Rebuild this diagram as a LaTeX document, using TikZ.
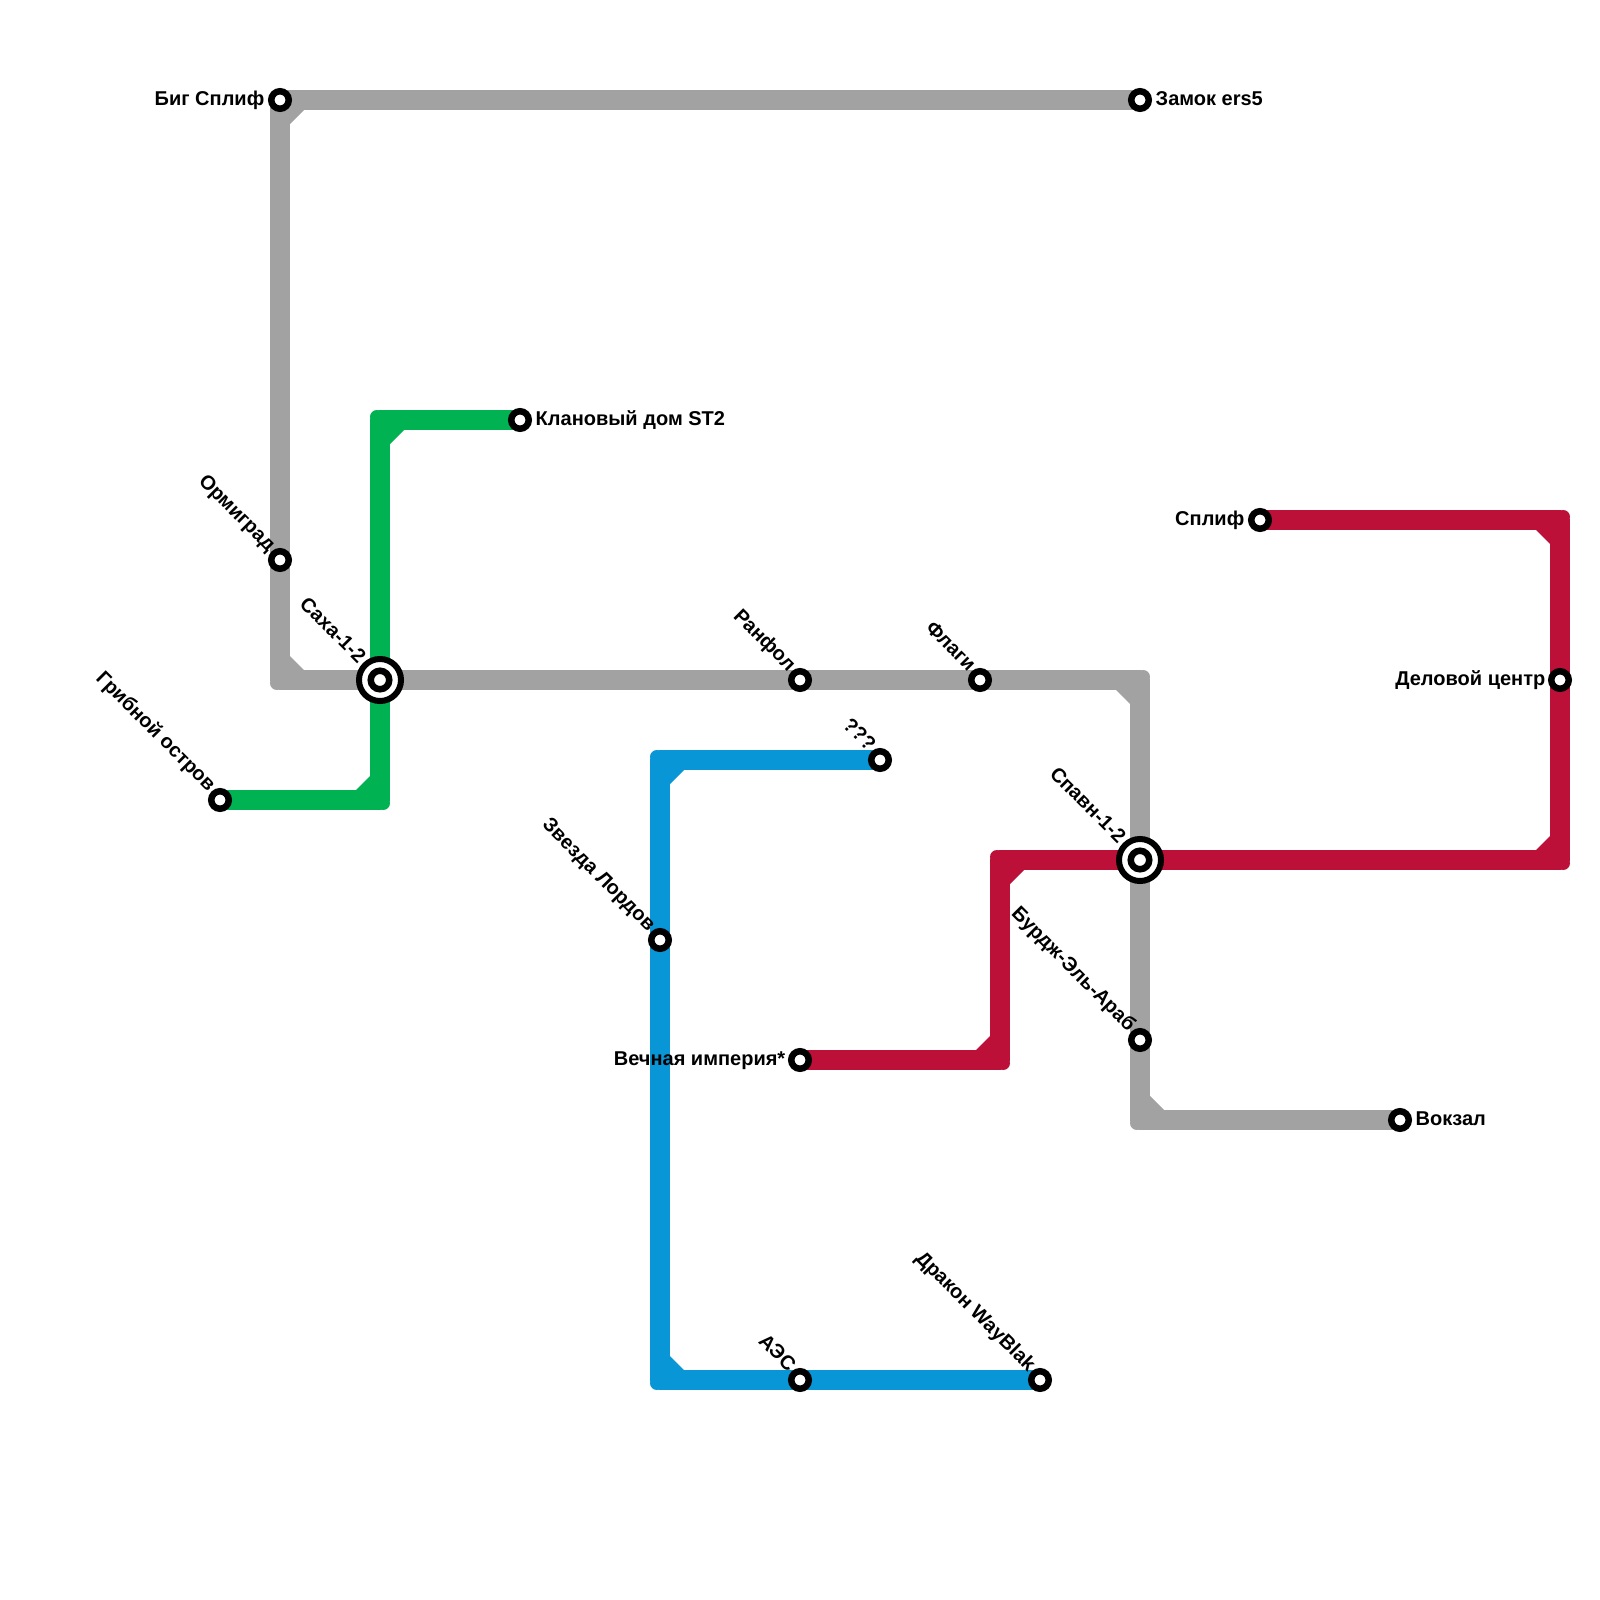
\documentclass[tikz,border=0pt]{standalone}
\usepackage{fontspec}
\setmainfont{Liberation Sans}
\usetikzlibrary{positioning,calc,backgrounds}
\definecolor{linegrey}{HTML}{A2A2A2}
\definecolor{linegreen}{HTML}{00B251}
\definecolor{lineblue}{HTML}{0896D7}
\definecolor{linered}{HTML}{BD1038}
\tikzset{
  metroline/.style={line width=0.2cm,line join=round},
  stopdot/.style={circle,draw=black,fill=white,line width=0.065cm,minimum size=0.175cm,inner sep=0pt},
  hubring/.style={circle,draw=black,fill=white,line width=0.06cm,minimum size=0.42cm,inner sep=0pt},
  stoptag/.style={font=\bfseries\fontsize{5.69}{6.5}\selectfont,text=black,inner sep=0pt,text height=0.145cm,text depth=0.04cm},
  slanttag/.style={stoptag,rotate=-45,anchor=east},
}
% outer corner of a line, with the cut on its inner side
\newcommand{\linebend}[4]{%
  \fill[#4] ($(#1)+(#2*-24,#3*-10)$) -- ($(#1)+(#2*-10,#3*-24)$) -- ($(#1)+(#2*0,#3*-24)$)
    -- ($(#1)+(#2*10,#3*3)$)
    .. controls ($(#1)+(#2*10,#3*7)$) and ($(#1)+(#2*7,#3*10)$) .. ($(#1)+(#2*3,#3*10)$)
    -- ($(#1)+(#2*-24,#3*0)$) -- cycle;
}
\newcommand{\metrostop}[3]{\node[stopdot] (#1) at (#2,#3) {};}
\newcommand{\metrohub}[3]{%
  \node[hubring] (#1) at (#2,#3) {};
  \node[stopdot,minimum size=0.185cm] (#1dot) at (#1) {};
}
\begin{document}
\begin{tikzpicture}[x=0.01cm,y=-0.01cm]
  \useasboundingbox (0,0) rectangle (1600,1600);
  % bends
  \coordinate (greya) at (280,680);
  \coordinate (greyb) at (1140,680);
  \coordinate (greyc) at (1140,1120);
  \coordinate (greena) at (380,420);
  \coordinate (greenb) at (380,800);
  \coordinate (bluea) at (660,760);
  \coordinate (blueb) at (660,1380);
  \coordinate (reda) at (1560,520);
  \coordinate (redb) at (1560,860);
  \coordinate (redc) at (1000,860);
  \coordinate (redd) at (1000,1060);
  % stations
  \metrostop{bigsplif}{280}{100}
  \metrostop{zamok}{1140}{100}
  \metrostop{ormigrad}{280}{560}
  \metrohub{saha}{380}{680}
  \metrostop{gribnoj}{220}{800}
  \metrostop{klan}{520}{420}
  \metrostop{ranfol}{800}{680}
  \metrostop{flagi}{980}{680}
  \metrohub{spavn}{1140}{860}
  \metrostop{burj}{1140}{1040}
  \metrostop{vokzal}{1400}{1120}
  \metrostop{splif}{1260}{520}
  \metrostop{delovoj}{1560}{680}
  \metrostop{vechnaja}{800}{1060}
  \metrostop{unknown}{880}{760}
  \metrostop{zvezda}{660}{940}
  \metrostop{aes}{800}{1380}
  \metrostop{drakon}{1040}{1380}
  % lines
  \begin{scope}[on background layer]
    \draw[metroline,linegrey] (zamok.center) -- (bigsplif.center) -- (ormigrad.center) -- (greya) -- (saha.center)
      -- (ranfol.center) -- (flagi.center) -- (greyb) -- (spavn.center) -- (burj.center) -- (greyc) -- (vokzal.center);
    \linebend{bigsplif.center}{-1}{-1}{linegrey}
    \linebend{greya}{-1}{1}{linegrey}
    \linebend{greyb}{1}{-1}{linegrey}
    \linebend{greyc}{-1}{1}{linegrey}
    \draw[metroline,lineblue] (unknown.center) -- (bluea) -- (zvezda.center) -- (blueb) -- (aes.center) -- (drakon.center);
    \linebend{bluea}{-1}{-1}{lineblue}
    \linebend{blueb}{-1}{1}{lineblue}
    \draw[metroline,linered] (splif.center) -- (reda) -- (delovoj.center) -- (redb) -- (spavn.center) -- (redc) -- (redd) -- (vechnaja.center);
    \linebend{reda}{1}{-1}{linered}
    \linebend{redb}{1}{1}{linered}
    \linebend{redc}{-1}{-1}{linered}
    \linebend{redd}{1}{1}{linered}
    \draw[metroline,linegreen] (klan.center) -- (greena) -- (saha.center) -- (greenb) -- (gribnoj.center);
    \linebend{greena}{-1}{-1}{linegreen}
    \linebend{greenb}{1}{1}{linegreen}
  \end{scope}
  % labels
  \node[stoptag,left=0.15cm of bigsplif.center] (bigspliftag) {Биг Сплиф};
  \node[stoptag,right=0.15cm of zamok.center] (zamoktag) {Замок ers5};
  \node[stoptag,right=0.15cm of klan.center] (klantag) {Клановый дом ST2};
  \node[stoptag,left=0.15cm of splif.center] (spliftag) {Сплиф};
  \node[stoptag,left=0.14cm of delovoj.center] (delovojtag) {Деловой центр};
  \node[stoptag,left=0.14cm of vechnaja.center] (vechnajatag) {Вечная империя*};
  \node[stoptag,right=0.15cm of vokzal.center] (vokzaltag) {Вокзал};
  \node[slanttag] (ormigradtag) at ($(ormigrad)+(-8,-11)$) {Ормиград};
  \node[slanttag] (sahatag) at ($(saha)+(-18,-19)$) {Саха-1-2};
  \node[slanttag] (gribnojtag) at ($(gribnoj)+(-8,-11)$) {Грибной остров};
  \node[slanttag] (ranfoltag) at ($(ranfol)+(-8,-11)$) {Ранфол};
  \node[slanttag] (flagitag) at ($(flagi)+(-8,-11)$) {Флаги};
  \node[slanttag] (spavntag) at ($(spavn)+(-18,-19)$) {Спавн-1-2};
  \node[slanttag] (burjtag) at ($(burj)+(-8,-11)$) {Бурдж-Эль-Араб};
  \node[slanttag] (unknowntag) at ($(unknown)+(-8,-11)$) {???};
  \node[slanttag] (zvezdatag) at ($(zvezda)+(-8,-11)$) {Звезда Лордов};
  \node[slanttag] (aestag) at ($(aes)+(-8,-11)$) {АЭС};
  \node[slanttag] (drakontag) at ($(drakon)+(-8,-11)$) {Дракон WayBlak};
\end{tikzpicture}
\end{document}
